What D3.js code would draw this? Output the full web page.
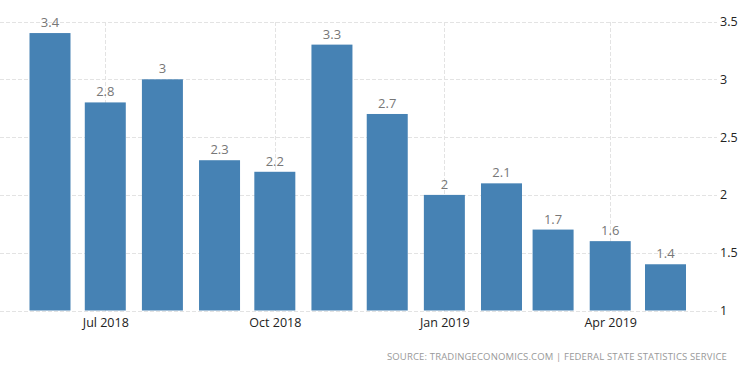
<!DOCTYPE html>
<html lang="en">
<head>
    <meta charset="UTF-8">
    <title>Inflation Rate</title>
    <style>
        body { margin: 0; background: #fff; }
        .grid line { stroke: #e3e3e3; stroke-dasharray: 4,2; shape-rendering: crispEdges; }
        .grid path { display: none; }
        .bar { fill: #4682b4; }
        .label { fill: #777; font-family: "Open Sans", sans-serif; font-size: 13px; }
        .axis text { fill: #222; font-family: "Open Sans", sans-serif; font-size: 12.5px; }
        .axis path, .axis line { display: none; }
        .source { fill: #999; font-family: "Open Sans", sans-serif; font-size: 9.5px; letter-spacing: 0.15px; }
    </style>
    <script src="https://d3js.org/d3.v7.min.js"></script>
</head>
<body>
    <svg width="750" height="373"></svg>

    <script>
        // Monthly values, Jun 2018 - May 2019
        const months = ["2018-06", "2018-07", "2018-08", "2018-09", "2018-10", "2018-11",
                        "2018-12", "2019-01", "2019-02", "2019-03", "2019-04", "2019-05"];
        const values = [3.4, 2.8, 3, 2.3, 2.2, 3.3, 2.7, 2, 2.1, 1.7, 1.6, 1.4];
        const yTicks = [1, 1.5, 2, 2.5, 3, 3.5];
        const xTickMonths = ["2018-07", "2018-10", "2019-01", "2019-04"];
        const sourceText = "SOURCE: TRADINGECONOMICS.COM  |  FEDERAL STATE STATISTICS SERVICE";

        const parseMonth = d3.timeParse("%Y-%m");
        const data = months.map((m, i) => ({date: parseMonth(m), value: values[i]}));

        const svg = d3.select("svg");
        const gridLeft = 0, gridRight = 717;

        // x positions follow calendar days
        const x = d3.scaleTime()
            .domain([parseMonth("2018-06"), parseMonth("2019-05")])
            .range([50, 665.5]);
        const y = d3.scaleLinear()
            .domain([1, 3.5])
            .range([310.5, 21.5]);
        const barWidth = 41;

        // horizontal grid
        svg.append("g")
            .attr("class", "grid")
            .selectAll("line")
            .data(yTicks)
            .join("line")
            .attr("x1", gridLeft)
            .attr("x2", gridRight)
            .attr("y1", d => Math.round(y(d)) + 0.5)
            .attr("y2", d => Math.round(y(d)) + 0.5);

        // vertical grid
        svg.append("g")
            .attr("class", "grid")
            .selectAll("line")
            .data(xTickMonths.map(parseMonth))
            .join("line")
            .attr("x1", d => Math.round(x(d)) + 0.5)
            .attr("x2", d => Math.round(x(d)) + 0.5)
            .attr("y1", y(3.5))
            .attr("y2", y(1));

        // bars
        svg.append("g")
            .selectAll("rect")
            .data(data)
            .join("rect")
            .attr("class", "bar")
            .attr("x", d => x(d.date) - barWidth / 2)
            .attr("width", barWidth)
            .attr("y", d => y(d.value))
            .attr("height", d => y(1) - y(d.value));

        // value labels
        svg.append("g")
            .selectAll("text")
            .data(data)
            .join("text")
            .attr("class", "label")
            .attr("text-anchor", "middle")
            .attr("x", d => x(d.date))
            .attr("y", d => y(d.value) - 6)
            .text(d => d3.format("~g")(d.value));

        // Y axis on the right
        svg.append("g")
            .attr("class", "axis")
            .attr("transform", "translate(" + gridRight + ",0)")
            .call(d3.axisRight(y).tickValues(yTicks).tickSize(0).tickPadding(3).tickFormat(d3.format("~g")));

        // X axis
        svg.append("g")
            .attr("class", "axis")
            .attr("transform", "translate(0," + y(1) + ")")
            .call(d3.axisBottom(x).tickValues(xTickMonths.map(parseMonth)).tickSize(0).tickPadding(8)
                .tickFormat(d3.timeFormat("%b %Y")));

        // source
        svg.append("text")
            .attr("class", "source")
            .attr("text-anchor", "end")
            .attr("x", 727)
            .attr("y", 360)
            .text(sourceText);
    </script>
</body>
</html>
